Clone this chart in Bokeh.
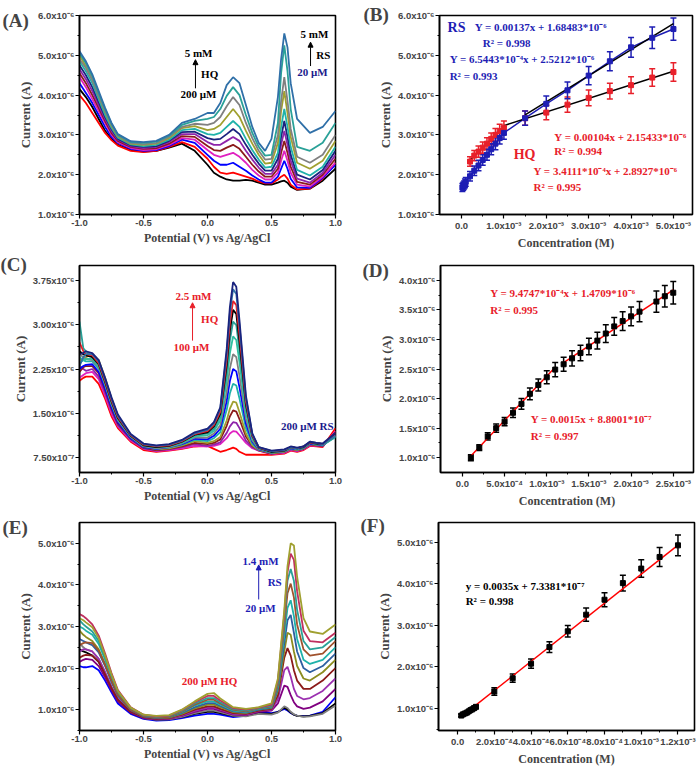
from bokeh.plotting import figure
from bokeh.models import Range1d, FixedTicker, Label, Arrow, NormalHead, Whisker, TeeHead, ColumnDataSource
from bokeh.layouts import column, row
from bokeh.embed import file_html
from bokeh.resources import INLINE

SERIF = "Liberation Serif"
SANS = "Liberation Sans"

A_X = [-1.0, -0.95, -0.9, -0.85, -0.8, -0.75, -0.7, -0.6, -0.5, -0.4, -0.3, -0.2, -0.1, 0.0, 0.05, 0.1, 0.15,
       0.2, 0.25, 0.3, 0.35, 0.4, 0.45, 0.5, 0.55, 0.575, 0.6, 0.625, 0.65, 0.7, 0.8, 0.9, 1.0]
A_CURVES = [
    [4.15, 3.95, 3.7, 3.4, 3.1, 2.9, 2.75, 2.62, 2.58, 2.6, 2.68, 2.78, 2.6, 2.25, 2.05, 1.95, 1.88, 1.85, 1.85, 1.87, 1.85, 1.8, 1.75, 1.75, 1.8, 1.83, 1.85, 1.8, 1.7, 1.62, 1.65, 1.85, 2.15],
    [4.0, 3.8, 3.55, 3.3, 3.05, 2.87, 2.73, 2.6, 2.57, 2.6, 2.7, 2.82, 2.7, 2.4, 2.2, 2.05, 2.02, 2.05, 2.0, 1.95, 1.9, 1.83, 1.78, 1.78, 1.88, 1.95, 2.0, 1.9, 1.75, 1.63, 1.65, 1.9, 2.3],
    [4.3, 4.05, 3.8, 3.5, 3.2, 2.95, 2.8, 2.65, 2.6, 2.62, 2.72, 2.88, 2.8, 2.5, 2.35, 2.25, 2.25, 2.3, 2.2, 2.1, 1.98, 1.88, 1.8, 1.8, 1.95, 2.15, 2.35, 2.15, 1.9, 1.68, 1.67, 1.92, 2.25],
    [4.45, 4.2, 3.9, 3.6, 3.3, 3.0, 2.82, 2.67, 2.62, 2.64, 2.75, 2.92, 2.88, 2.62, 2.5, 2.45, 2.5, 2.55, 2.45, 2.3, 2.12, 1.98, 1.88, 1.88, 2.05, 2.35, 2.6, 2.35, 2.05, 1.75, 1.7, 1.95, 2.3],
    [4.55, 4.3, 4.0, 3.68, 3.35, 3.05, 2.85, 2.7, 2.65, 2.67, 2.78, 2.97, 2.95, 2.72, 2.62, 2.6, 2.68, 2.75, 2.65, 2.45, 2.25, 2.08, 1.95, 1.95, 2.15, 2.55, 2.85, 2.55, 2.2, 1.82, 1.75, 2.0, 2.4],
    [4.65, 4.4, 4.1, 3.75, 3.4, 3.1, 2.88, 2.72, 2.67, 2.7, 2.82, 3.02, 3.02, 2.82, 2.75, 2.75, 2.85, 2.95, 2.85, 2.6, 2.38, 2.18, 2.02, 2.02, 2.25, 2.75, 3.1, 2.75, 2.35, 1.9, 1.8, 2.05, 2.5],
    [4.75, 4.5, 4.2, 3.82, 3.45, 3.15, 2.9, 2.74, 2.7, 2.72, 2.85, 3.07, 3.08, 2.92, 2.88, 2.9, 3.02, 3.15, 3.02, 2.75, 2.5, 2.28, 2.1, 2.1, 2.4, 2.95, 3.35, 2.95, 2.5, 2.0, 1.88, 2.12, 2.6],
    [4.85, 4.6, 4.3, 3.9, 3.5, 3.18, 2.93, 2.76, 2.72, 2.75, 2.88, 3.12, 3.15, 3.02, 3.0, 3.05, 3.2, 3.35, 3.2, 2.9, 2.62, 2.38, 2.18, 2.2, 2.55, 3.2, 3.65, 3.2, 2.7, 2.12, 1.98, 2.2, 2.7],
    [5.0, 4.72, 4.4, 3.98, 3.58, 3.22, 2.96, 2.78, 2.75, 2.78, 2.92, 3.17, 3.22, 3.12, 3.15, 3.25, 3.45, 3.65, 3.45, 3.1, 2.78, 2.5, 2.28, 2.3, 2.8, 3.6, 4.1, 3.55, 2.95, 2.3, 2.15, 2.35, 2.85],
    [4.9, 4.68, 4.38, 3.98, 3.6, 3.25, 2.98, 2.8, 2.77, 2.8, 2.95, 3.2, 3.28, 3.25, 3.3, 3.45, 3.72, 3.95, 3.75, 3.3, 2.92, 2.6, 2.38, 2.4, 3.0, 3.85, 4.45, 3.85, 3.15, 2.45, 2.3, 2.5, 3.0],
    [5.05, 4.8, 4.48, 4.05, 3.65, 3.28, 3.0, 2.82, 2.8, 2.83, 2.98, 3.25, 3.35, 3.4, 3.45, 3.65, 3.98, 4.2, 4.0, 3.5, 3.05, 2.7, 2.48, 2.5, 3.3, 4.55, 5.25, 4.6, 3.65, 2.7, 2.6, 2.8, 3.3],
    [5.1, 4.85, 4.52, 4.1, 3.68, 3.3, 3.02, 2.84, 2.82, 2.85, 3.0, 3.3, 3.4, 3.55, 3.55, 3.8, 4.25, 4.45, 4.3, 3.75, 3.2, 2.8, 2.6, 2.9, 3.95, 4.9, 5.55, 5.2, 4.3, 3.4, 3.05, 3.2, 3.6],
]
A_COLORS = ["#000000", "#FF0000", "#0000FF", "#E020C0", "#8B1A1A", "#8E24AA", "#1A237E", "#20B2AA",
            "#A0A030", "#808080", "#2AA198", "#3070A8"]

B_HQ_X = [0.2, 0.3, 0.4, 0.5, 0.6, 0.7, 0.8, 0.9, 1.0, 1.5, 2.0, 2.5, 3.0, 3.5, 4.0, 4.5, 5.0]
B_HQ_Y = [2.33, 2.48, 2.58, 2.68, 2.78, 2.9, 3.0, 3.1, 3.18, 3.42, 3.56, 3.76, 3.93, 4.1, 4.25, 4.44, 4.58]
B_HQ_E = [0.12, 0.13, 0.14, 0.14, 0.15, 0.15, 0.16, 0.17, 0.17, 0.18, 0.18, 0.19, 0.2, 0.2, 0.21, 0.22, 0.23]
B_RS_X = [0.02, 0.04, 0.06, 0.08, 0.1, 0.2, 0.3, 0.4, 0.5, 0.6, 0.7, 0.8, 0.9, 1.0, 1.5, 2.0, 2.5, 3.0, 3.5, 4.0, 4.5, 5.0]
B_RS_Y = [1.68, 1.71, 1.74, 1.78, 1.82, 1.96, 2.1, 2.23, 2.37, 2.5, 2.64, 2.78, 2.92, 3.05, 3.42, 3.78, 4.12, 4.49, 4.85, 5.2, 5.44, 5.66]
B_RS_E = [0.1, 0.1, 0.1, 0.11, 0.11, 0.12, 0.12, 0.13, 0.13, 0.14, 0.14, 0.15, 0.15, 0.16, 0.18, 0.2, 0.21, 0.23, 0.24, 0.25, 0.27, 0.28]
B_FITS_BLACK = [(1.04, 2.15433, 0.2, 1.0), (0.34111, 2.8927, 1.0, 5.0), (0.65443, 2.5212, 1.5, 5.0)]

C_X = [-1.0, -0.97, -0.95, -0.9, -0.85, -0.8, -0.75, -0.7, -0.6, -0.5, -0.4, -0.3, -0.2, -0.1,
       0.0, 0.05, 0.1, 0.15, 0.175, 0.2, 0.225, 0.25, 0.3, 0.35, 0.4,
       0.5, 0.6, 0.65, 0.7, 0.75, 0.8, 0.85, 0.9, 1.0]
C_CURVES = [
    [2.05, 2.1, 2.12, 2.12, 2.0, 1.75, 1.45, 1.25, 1.02, 0.88, 0.85, 0.87, 0.9, 0.94, 0.95, 0.9, 0.85, 0.88, 0.9, 0.92, 0.9, 0.85, 0.8, 0.8, 0.8, 0.8, 0.82, 0.87, 0.85, 0.88, 0.95, 0.94, 0.93, 1.25],
    [2.1, 2.15, 2.18, 2.2, 2.08, 1.8, 1.5, 1.28, 1.04, 0.9, 0.86, 0.88, 0.91, 0.95, 0.94, 0.95, 0.98, 1.08, 1.16, 1.2, 1.19, 1.13, 1.0, 0.91, 0.87, 0.81, 0.83, 0.88, 0.86, 0.89, 0.96, 0.95, 0.94, 1.2],
    [2.3, 2.25, 2.22, 2.25, 2.12, 1.85, 1.55, 1.3, 1.06, 0.91, 0.87, 0.89, 0.93, 0.98, 0.95, 0.97, 1.01, 1.17, 1.28, 1.35, 1.34, 1.25, 1.04, 0.93, 0.87, 0.82, 0.84, 0.89, 0.87, 0.9, 0.97, 0.96, 0.95, 1.15],
    [2.2, 2.28, 2.3, 2.3, 2.18, 1.9, 1.58, 1.33, 1.07, 0.92, 0.88, 0.9, 0.94, 1.0, 0.98, 1.0, 1.06, 1.29, 1.45, 1.55, 1.53, 1.4, 1.11, 0.95, 0.88, 0.82, 0.85, 0.9, 0.88, 0.9, 0.98, 0.96, 0.95, 1.18],
    [2.4, 2.42, 2.45, 2.5, 2.4, 2.1, 1.75, 1.45, 1.12, 0.94, 0.89, 0.91, 0.96, 1.03, 1.0, 1.03, 1.1, 1.38, 1.58, 1.7, 1.68, 1.52, 1.16, 0.96, 0.88, 0.83, 0.85, 0.9, 0.88, 0.91, 0.98, 0.97, 0.96, 1.12],
    [2.45, 2.4, 2.38, 2.38, 2.25, 1.95, 1.62, 1.36, 1.08, 0.93, 0.9, 0.92, 0.97, 1.05, 1.03, 1.08, 1.18, 1.56, 1.84, 2.0, 1.97, 1.75, 1.25, 0.99, 0.89, 0.83, 0.86, 0.91, 0.89, 0.91, 0.99, 0.97, 0.96, 1.1],
    [2.25, 2.3, 2.32, 2.33, 2.2, 1.92, 1.6, 1.35, 1.08, 0.93, 0.9, 0.93, 0.98, 1.07, 1.06, 1.12, 1.24, 1.71, 2.05, 2.25, 2.21, 1.94, 1.33, 1.02, 0.89, 0.84, 0.86, 0.91, 0.89, 0.92, 0.99, 0.98, 0.96, 1.14],
    [2.5, 2.45, 2.42, 2.4, 2.28, 1.98, 1.65, 1.38, 1.1, 0.94, 0.91, 0.93, 0.99, 1.09, 1.09, 1.16, 1.3, 1.86, 2.26, 2.5, 2.45, 2.13, 1.41, 1.04, 0.9, 0.84, 0.86, 0.92, 0.9, 0.92, 1.0, 0.98, 0.97, 1.16],
    [2.35, 2.4, 2.42, 2.42, 2.3, 2.0, 1.67, 1.4, 1.11, 0.95, 0.92, 0.94, 1.0, 1.11, 1.13, 1.2, 1.38, 2.04, 2.52, 2.8, 2.74, 2.36, 1.51, 1.07, 0.91, 0.85, 0.87, 0.92, 0.9, 0.93, 1.0, 0.99, 0.97, 1.12],
    [3.05, 2.6, 2.55, 2.45, 2.32, 2.02, 1.68, 1.41, 1.12, 0.96, 0.93, 0.95, 1.01, 1.13, 1.16, 1.24, 1.44, 2.19, 2.73, 3.05, 2.99, 2.56, 1.59, 1.1, 0.91, 0.85, 0.87, 0.92, 0.9, 0.93, 1.0, 0.99, 0.97, 1.1],
    [2.55, 2.5, 2.48, 2.45, 2.33, 2.03, 1.7, 1.42, 1.12, 0.96, 0.93, 0.95, 1.02, 1.14, 1.18, 1.28, 1.49, 2.31, 2.9, 3.25, 3.18, 2.71, 1.65, 1.12, 0.92, 0.85, 0.87, 0.93, 0.91, 0.93, 1.01, 0.99, 0.98, 1.15],
    [2.7, 2.55, 2.5, 2.48, 2.35, 2.05, 1.72, 1.44, 1.13, 0.97, 0.94, 0.96, 1.03, 1.15, 1.2, 1.3, 1.53, 2.4, 3.03, 3.4, 3.33, 2.83, 1.7, 1.13, 0.92, 0.86, 0.88, 0.93, 0.91, 0.94, 1.01, 1.0, 0.98, 1.13],
    [2.3, 2.45, 2.5, 2.5, 2.38, 2.08, 1.75, 1.46, 1.14, 0.98, 0.95, 0.97, 1.04, 1.16, 1.22, 1.33, 1.58, 2.52, 3.2, 3.6, 3.52, 2.98, 1.76, 1.15, 0.93, 0.86, 0.88, 0.93, 0.91, 0.94, 1.02, 1.0, 0.98, 1.12],
    [2.5, 2.52, 2.55, 2.52, 2.4, 2.1, 1.77, 1.48, 1.15, 0.99, 0.96, 0.98, 1.05, 1.18, 1.24, 1.35, 1.6, 2.59, 3.3, 3.72, 3.64, 3.07, 1.8, 1.16, 0.93, 0.87, 0.89, 0.94, 0.92, 0.94, 1.02, 1.0, 0.99, 1.17],
]
C_COLORS = ["#FF0000", "#E020C0", "#8E24AA", "#8B1A1A", "#A0A030", "#20B2AA", "#0000FF", "#808080",
            "#30C0A0", "#2AA198", "#000000", "#E8202A", "#3070A8", "#1A237E"]

D_X = [0.1, 0.2, 0.3, 0.4, 0.5, 0.6, 0.7, 0.8, 0.9, 1.0, 1.1, 1.2, 1.3, 1.4, 1.5, 1.6, 1.7, 1.8, 1.9, 2.0, 2.1, 2.3, 2.4, 2.5]
D_Y = [1.0, 1.17, 1.36, 1.5, 1.61, 1.76, 1.91, 2.08, 2.23, 2.36, 2.49, 2.58, 2.68, 2.77, 2.88, 2.98, 3.1, 3.22, 3.31, 3.39, 3.47, 3.64, 3.73, 3.79]
D_E = [0.05, 0.05, 0.06, 0.07, 0.07, 0.08, 0.09, 0.1, 0.1, 0.11, 0.12, 0.12, 0.13, 0.13, 0.14, 0.14, 0.15, 0.15, 0.16, 0.16, 0.17, 0.18, 0.18, 0.19]
D_FITS = [(1.5, 0.88001, 0.1, 1.1), (0.94747, 1.4709, 1.2, 2.5)]

E_X = [-1.0, -0.97, -0.95, -0.9, -0.85, -0.8, -0.75, -0.7, -0.6, -0.5, -0.4, -0.3, -0.2, -0.1, 0.0, 0.05, 0.1, 0.2, 0.3,
       0.4, 0.5, 0.55, 0.6, 0.625, 0.65, 0.675, 0.7, 0.75, 0.8, 0.9, 1.0]
E_CURVES = [
    [2.05, 2.02, 2.02, 2.05, 1.95, 1.7, 1.42, 1.15, 0.9, 0.78, 0.74, 0.75, 0.8, 0.86, 0.9, 0.9, 0.88, 0.82, 0.85, 0.95, 0.92, 0.95, 1.02, 0.98, 0.92, 0.88, 0.86, 0.85, 0.86, 0.95, 1.3],
    [2.45, 2.4, 2.38, 2.3, 2.15, 1.85, 1.5, 1.22, 0.93, 0.8, 0.76, 0.77, 0.82, 0.9, 0.95, 0.95, 0.92, 0.85, 0.85, 0.92, 0.9, 0.94, 1.05, 1.0, 0.93, 0.88, 0.85, 0.84, 0.85, 0.92, 1.15],
    [2.6, 2.5, 2.45, 2.4, 2.22, 1.9, 1.55, 1.25, 0.95, 0.8, 0.76, 0.77, 0.83, 0.92, 0.98, 0.98, 0.94, 0.86, 0.84, 0.9, 0.88, 0.93, 1.08, 1.04, 0.95, 0.89, 0.86, 0.83, 0.84, 0.9, 1.1],
    [2.15, 2.2, 2.22, 2.2, 2.05, 1.78, 1.48, 1.2, 0.93, 0.8, 0.77, 0.78, 0.85, 0.95, 1.02, 1.02, 0.97, 0.88, 0.87, 0.95, 0.98, 1.15, 1.58, 1.55, 1.35, 1.18, 1.08, 1.02, 1.05, 1.2, 1.5],
    [2.4, 2.45, 2.45, 2.4, 2.22, 1.9, 1.55, 1.26, 0.96, 0.82, 0.78, 0.79, 0.86, 0.97, 1.05, 1.05, 1.0, 0.9, 0.88, 0.97, 1.0, 1.25, 1.95, 2.03, 1.8, 1.5, 1.33, 1.25, 1.28, 1.45, 1.75],
    [2.25, 2.3, 2.32, 2.3, 2.15, 1.85, 1.52, 1.24, 0.95, 0.82, 0.78, 0.8, 0.88, 1.0, 1.08, 1.08, 1.02, 0.92, 0.9, 0.98, 1.02, 1.35, 2.25, 2.48, 2.3, 1.95, 1.7, 1.5, 1.5, 1.7, 2.0],
    [2.9, 2.8, 2.75, 2.65, 2.45, 2.1, 1.7, 1.35, 1.0, 0.84, 0.8, 0.81, 0.9, 1.03, 1.12, 1.12, 1.06, 0.94, 0.92, 1.0, 1.04, 1.45, 2.4, 2.85, 2.8, 2.4, 2.05, 1.75, 1.7, 1.9, 2.2],
    [2.7, 2.65, 2.62, 2.55, 2.38, 2.05, 1.66, 1.33, 0.99, 0.84, 0.8, 0.82, 0.92, 1.06, 1.16, 1.16, 1.09, 0.96, 0.93, 1.0, 1.05, 1.5, 2.6, 3.15, 3.28, 2.85, 2.4, 2.0, 1.9, 2.05, 2.35],
    [3.0, 2.95, 2.9, 2.8, 2.58, 2.2, 1.78, 1.4, 1.02, 0.86, 0.82, 0.83, 0.94, 1.1, 1.2, 1.2, 1.12, 0.98, 0.95, 1.02, 1.07, 1.55, 2.8, 3.45, 3.63, 3.25, 2.7, 2.2, 2.1, 2.2, 2.5],
    [2.55, 2.6, 2.62, 2.6, 2.42, 2.08, 1.7, 1.36, 1.0, 0.85, 0.81, 0.83, 0.95, 1.12, 1.24, 1.24, 1.15, 1.0, 0.96, 1.03, 1.08, 1.6, 3.0, 3.8, 4.03, 3.7, 3.05, 2.45, 2.3, 2.35, 2.65],
    [3.15, 3.05, 3.0, 2.88, 2.65, 2.25, 1.82, 1.43, 1.04, 0.87, 0.83, 0.85, 0.97, 1.15, 1.28, 1.28, 1.18, 1.02, 0.98, 1.04, 1.1, 1.65, 3.15, 4.1, 4.38, 4.1, 3.4, 2.65, 2.45, 2.5, 2.75],
    [3.3, 3.25, 3.2, 3.05, 2.78, 2.35, 1.88, 1.47, 1.06, 0.88, 0.84, 0.86, 0.99, 1.18, 1.33, 1.33, 1.22, 1.04, 1.0, 1.05, 1.12, 1.7, 3.3, 4.3, 4.75, 4.6, 3.85, 2.9, 2.65, 2.62, 2.85],
    [3.2, 3.15, 3.1, 2.98, 2.72, 2.3, 1.85, 1.45, 1.05, 0.88, 0.85, 0.87, 1.0, 1.2, 1.38, 1.4, 1.27, 1.06, 1.02, 1.06, 1.15, 1.75, 3.4, 4.45, 5.0, 4.95, 4.2, 3.2, 2.88, 2.82, 3.05],
]
E_COLORS = ["#0000FF", "#000000", "#808080", "#800080", "#9B30B0", "#8B1A1A", "#8C8C20", "#2E5FA0",
            "#20B2AA", "#A0522D", "#2AA198", "#C0305F", "#A0A030"]

F_X = [0.02, 0.03, 0.04, 0.05, 0.06, 0.07, 0.08, 0.09, 0.1, 0.2, 0.3, 0.4, 0.5, 0.6, 0.7, 0.8, 0.9, 1.0, 1.1, 1.2]
F_Y = [0.83, 0.86, 0.88, 0.9, 0.93, 0.96, 0.98, 1.01, 1.04, 1.41, 1.73, 2.08, 2.48, 2.86, 3.26, 3.62, 4.02, 4.37, 4.65, 4.93]
F_E = [0.03, 0.03, 0.03, 0.03, 0.03, 0.03, 0.03, 0.04, 0.04, 0.09, 0.1, 0.11, 0.13, 0.14, 0.16, 0.17, 0.19, 0.21, 0.23, 0.25]
F_FIT = (3.5, 0.73381, 0.02, 1.2)

POT_TICKS = [-1.0, -0.5, 0.0, 0.5, 1.0]
POT_LABELS = ["-1.0", "-0.5", "0.0", "0.5", "1.0"]
POT_MINOR = [-0.75, -0.25, 0.25, 0.75]
Y16_TICKS = [1, 2, 3, 4, 5, 6]
Y16_LABELS = ["1.0x10⁻⁶", "2.0x10⁻⁶", "3.0x10⁻⁶", "4.0x10⁻⁶", "5.0x10⁻⁶", "6.0x10⁻⁶"]
Y16_MINOR = [1.5, 2.5, 3.5, 4.5, 5.5]
Y15_TICKS = [1, 2, 3, 4, 5]
Y15_LABELS = ["1.0x10⁻⁶", "2.0x10⁻⁶", "3.0x10⁻⁶", "4.0x10⁻⁶", "5.0x10⁻⁶"]
Y15_MINOR = [0.5, 1.5, 2.5, 3.5, 4.5]
C_YTICKS = [0.75, 1.5, 2.25, 3.0, 3.75]
C_YLABELS = ["7.50x10⁻⁷", "1.50x10⁻⁶", "2.25x10⁻⁶", "3.00x10⁻⁶", "3.75x10⁻⁶"]
C_YMINOR = [1.125, 1.875, 2.625, 3.375]
D_YTICKS = [1.0, 1.5, 2.0, 2.5, 3.0, 3.5, 4.0]
D_YLABELS = ["1.0x10⁻⁶", "1.5x10⁻⁶", "2.0x10⁻⁶", "2.5x10⁻⁶", "3.0x10⁻⁶", "3.5x10⁻⁶", "4.0x10⁻⁶"]
D_YMINOR = [1.25, 1.75, 2.25, 2.75, 3.25, 3.75]
B_XTICKS = [0, 1, 2, 3, 4, 5]
B_XLABELS = ["0.0", "1.0x10⁻³", "2.0x10⁻³", "3.0x10⁻³", "4.0x10⁻³", "5.0x10⁻³"]
B_XMINOR = [0.5, 1.5, 2.5, 3.5, 4.5]
D_XTICKS = [0, 0.5, 1.0, 1.5, 2.0, 2.5]
D_XLABELS = ["0.0", "5.0x10⁻⁴", "1.0x10⁻³", "1.5x10⁻³", "2.0x10⁻³", "2.5x10⁻³"]
D_XMINOR = [0.25, 0.75, 1.25, 1.75, 2.25]
F_XTICKS = [0, 0.2, 0.4, 0.6, 0.8, 1.0, 1.2]
F_XLABELS = ["0.0", "2.0x10⁻⁴", "4.0x10⁻⁴", "6.0x10⁻⁴", "8.0x10⁻⁴", "1.0x10⁻³", "1.2x10⁻³"]
F_XMINOR = [0.1, 0.3, 0.5, 0.7, 0.9, 1.1]

RED = "#E8202A"
BLUE = "#1E1EB4"
NAVY = "#1A1A8C"


def make_fig(w, h, xr, yr, borders, xt, yt, xlabel):
    bl, br, bt, bb = borders
    p = figure(width=w, height=h, x_range=Range1d(*xr), y_range=Range1d(*yr),
               output_backend="svg", toolbar_location=None,
               min_border_left=bl, min_border_right=br, min_border_top=bt, min_border_bottom=bb)
    p.grid.visible = False
    p.outline_line_color = "black"
    p.outline_line_width = 1.6
    for ax, (ticks, labels, minor), lab, size in ((p.xaxis[0], xt, xlabel, "12px"),
                                                   (p.yaxis[0], yt, "Current (A)", "13px")):
        ax.ticker = FixedTicker(ticks=ticks, minor_ticks=minor)
        ax.major_label_overrides = dict(zip(ticks, labels))
        ax.axis_label = lab
        ax.axis_label_text_font = SERIF
        ax.axis_label_text_font_style = "bold"
        ax.axis_label_text_font_size = size
        ax.major_label_text_font = SANS
        ax.major_label_text_font_style = "bold"
        ax.major_label_text_font_size = "9.5px"
        ax.axis_line_width = 1.6
        ax.major_tick_line_width = 1.2
        ax.minor_tick_line_width = 1.0
        ax.major_tick_in = 0
        ax.major_tick_out = 4
        ax.minor_tick_in = 0
        ax.minor_tick_out = 2
        ax.major_label_standoff = 1
        ax.axis_label_standoff = 2
    return p


def title_label(p, text, offset, standoff):
    p.title.text = text
    p.title.text_font = SERIF
    p.title.text_font_style = "bold"
    p.title.text_font_size = "19px"
    p.title.align = "left"
    p.title.offset = offset
    p.title.standoff = standoff


def txt(p, x, y, text, color="black", size="11px", align="left"):
    p.add_layout(Label(x=x, y=y, text=text, text_color=color, text_font=SERIF,
                       text_font_style="bold", text_font_size=size, text_align=align,
                       text_baseline="middle"))


def arrow(p, x, y0, y1, color):
    p.add_layout(Arrow(x_start=x, y_start=y0, x_end=x, y_end=y1, line_color=color, line_width=1,
                       end=NormalHead(size=5, fill_color=color, line_color=color)))


def errbars(p, xs, ys, es, color, cap=6):
    src = ColumnDataSource(dict(x=xs, upper=[y + e for y, e in zip(ys, es)], lower=[y - e for y, e in zip(ys, es)]))
    p.add_layout(Whisker(base="x", upper="upper", lower="lower", source=src, line_color=color, line_width=1.5,
                         upper_head=TeeHead(size=cap, line_color=color, line_width=1.5),
                         lower_head=TeeHead(size=cap, line_color=color, line_width=1.5)))


def fitline(p, fit, color, width=1.5):
    s, b, x0, x1 = fit
    p.line([x0, x1], [s * x0 + b, s * x1 + b], line_color=color, line_width=width)


POT_LABEL = "Potential (V) vs Ag/AgCl"
CONC_LABEL = "Concentration (M)"
H1, H2, H3 = 252, 258, 258

# (A)
pA = make_fig(350, H1, (-1.0, 1.0), (1.0, 6.0), (79, 15, 12, 32),
              (POT_TICKS, POT_LABELS, POT_MINOR), (Y16_TICKS, Y16_LABELS, Y16_MINOR), POT_LABEL)
for ys, c in zip(A_CURVES, A_COLORS):
    pA.line(A_X, ys, line_color=c, line_width=1.8)
title_label(pA, "(A)", -77, -30)
txt(pA, -0.07, 5.06, "5 mM", align="center")
arrow(pA, -0.094, 4.17, 4.89, "black")
txt(pA, -0.05, 4.53, "HQ")
txt(pA, -0.07, 4.03, "200 μM", align="center")
txt(pA, 0.836, 5.54, "5 mM", align="center")
arrow(pA, 0.805, 4.73, 5.33, "black")
txt(pA, 0.85, 5.01, "RS")
txt(pA, 0.82, 4.58, "20 μM", color=NAVY, align="center")

# (B)
pB = make_fig(350, H1, (-0.52, 5.45), (1.0, 6.0), (89, 8, 15, 32),
              (B_XTICKS, B_XLABELS, B_XMINOR), (Y16_TICKS, Y16_LABELS, Y16_MINOR), CONC_LABEL)
pB.line(B_RS_X, B_RS_Y, line_color=BLUE, line_width=1.5)
for f in B_FITS_BLACK:
    fitline(pB, f, "black")
errbars(pB, B_HQ_X, B_HQ_Y, B_HQ_E, RED)
errbars(pB, B_RS_X, B_RS_Y, B_RS_E, BLUE)
pB.scatter(B_HQ_X, B_HQ_Y, marker="square", size=5, color=RED)
pB.scatter(B_RS_X, B_RS_Y, marker="square", size=5, color=BLUE)
title_label(pB, "(B)", -76, -18)
txt(pB, -0.33, 5.71, "RS", color=BLUE, size="14px")
txt(pB, 0.31, 5.71, "Y = 0.00137x + 1.68483*10⁻⁶", color=BLUE)
txt(pB, 0.5, 5.30, "R² = 0.998", color=BLUE)
txt(pB, -0.28, 4.90, "Y = 6.5443*10⁻⁴x + 2.5212*10⁻⁶", color=BLUE)
txt(pB, -0.28, 4.49, "R² = 0.993", color=BLUE)
txt(pB, 2.19, 2.95, "Y = 0.00104x + 2.15433*10⁻⁶", color=RED)
txt(pB, 2.19, 2.59, "R² = 0.994", color=RED)
txt(pB, 1.23, 2.51, "HQ", color=RED, size="14px")
txt(pB, 1.70, 2.10, "Y = 3.4111*10⁻⁴x + 2.8927*10⁻⁶", color=RED)
txt(pB, 1.70, 1.68, "R² = 0.995", color=RED)

# (C)
pC = make_fig(350, H2, (-1.0, 1.0), (0.5, 4.0), (79, 15, 13, 38),
              (POT_TICKS, POT_LABELS, POT_MINOR), (C_YTICKS, C_YLABELS, C_YMINOR), POT_LABEL)
for ys, c in zip(C_CURVES, C_COLORS):
    pC.line(C_X, ys, line_color=c, line_width=1.8)
title_label(pC, "(C)", -79, -18)
txt(pC, -0.11, 3.49, "2.5 mM", color=RED, align="center")
arrow(pC, -0.117, 2.73, 3.37, RED)
txt(pC, -0.05, 3.09, "HQ", color=RED)
txt(pC, -0.125, 2.63, "100 μM", color=RED, align="center")
txt(pC, 0.78, 1.29, "200 μM RS", color=NAVY, align="center")

# (D)
pD = make_fig(350, H2, (-0.26, 2.74), (0.75, 4.25), (90, 7, 13, 38),
              (D_XTICKS, D_XLABELS, D_XMINOR), (D_YTICKS, D_YLABELS, D_YMINOR), CONC_LABEL)
for f in D_FITS:
    fitline(pD, f, "#FF0000")
errbars(pD, D_X, D_Y, D_E, "black")
pD.scatter(D_X, D_Y, marker="square", size=5, color="black")
title_label(pD, "(D)", -78, -30)
txt(pD, 0.33, 3.78, "Y = 9.4747*10⁻⁴x + 1.4709*10⁻⁶", color=RED)
txt(pD, 0.33, 3.49, "R² = 0.995", color=RED)
txt(pD, 0.81, 1.66, "Y = 0.0015x + 8.8001*10⁻⁷", color=RED)
txt(pD, 0.81, 1.37, "R² = 0.997", color=RED)

# (E)
pE = make_fig(350, H3, (-1.0, 1.0), (0.5, 5.5), (79, 15, 12, 35),
              (POT_TICKS, POT_LABELS, POT_MINOR), (Y15_TICKS, Y15_LABELS, Y15_MINOR), POT_LABEL)
for ys, c in zip(E_CURVES, E_COLORS):
    pE.line(E_X, ys, line_color=c, line_width=1.8)
title_label(pE, "(E)", -77, -30)
txt(pE, 0.414, 4.58, "1.4 mM", color=BLUE, align="center")
arrow(pE, 0.40, 3.65, 4.48, BLUE)
txt(pE, 0.47, 4.08, "RS", color=BLUE)
txt(pE, 0.414, 3.44, "20 μM", color=BLUE, align="center")
txt(pE, 0.016, 1.68, "200 μM HQ", color=RED, align="center")

# (F)
pF = make_fig(350, H3, (-0.104, 1.29), (0.47, 5.48), (88, 6, 12, 38),
              (F_XTICKS, F_XLABELS, F_XMINOR), (Y15_TICKS, Y15_LABELS, Y15_MINOR), CONC_LABEL)
fitline(pF, F_FIT, "#FF0000")
errbars(pF, F_X, F_Y, F_E, "black")
pF.scatter(F_X, F_Y, marker="square", size=5, color="black")
title_label(pF, "(F)", -78, -26)
txt(pF, 0.044, 3.94, "y = 0.0035x + 7.3381*10⁻⁷")
txt(pF, 0.044, 3.58, "R² = 0.998")

layout = column(row(pA, pB), row(pC, pD), row(pE, pF))
open("out.html", "w").write(file_html(layout, INLINE))
